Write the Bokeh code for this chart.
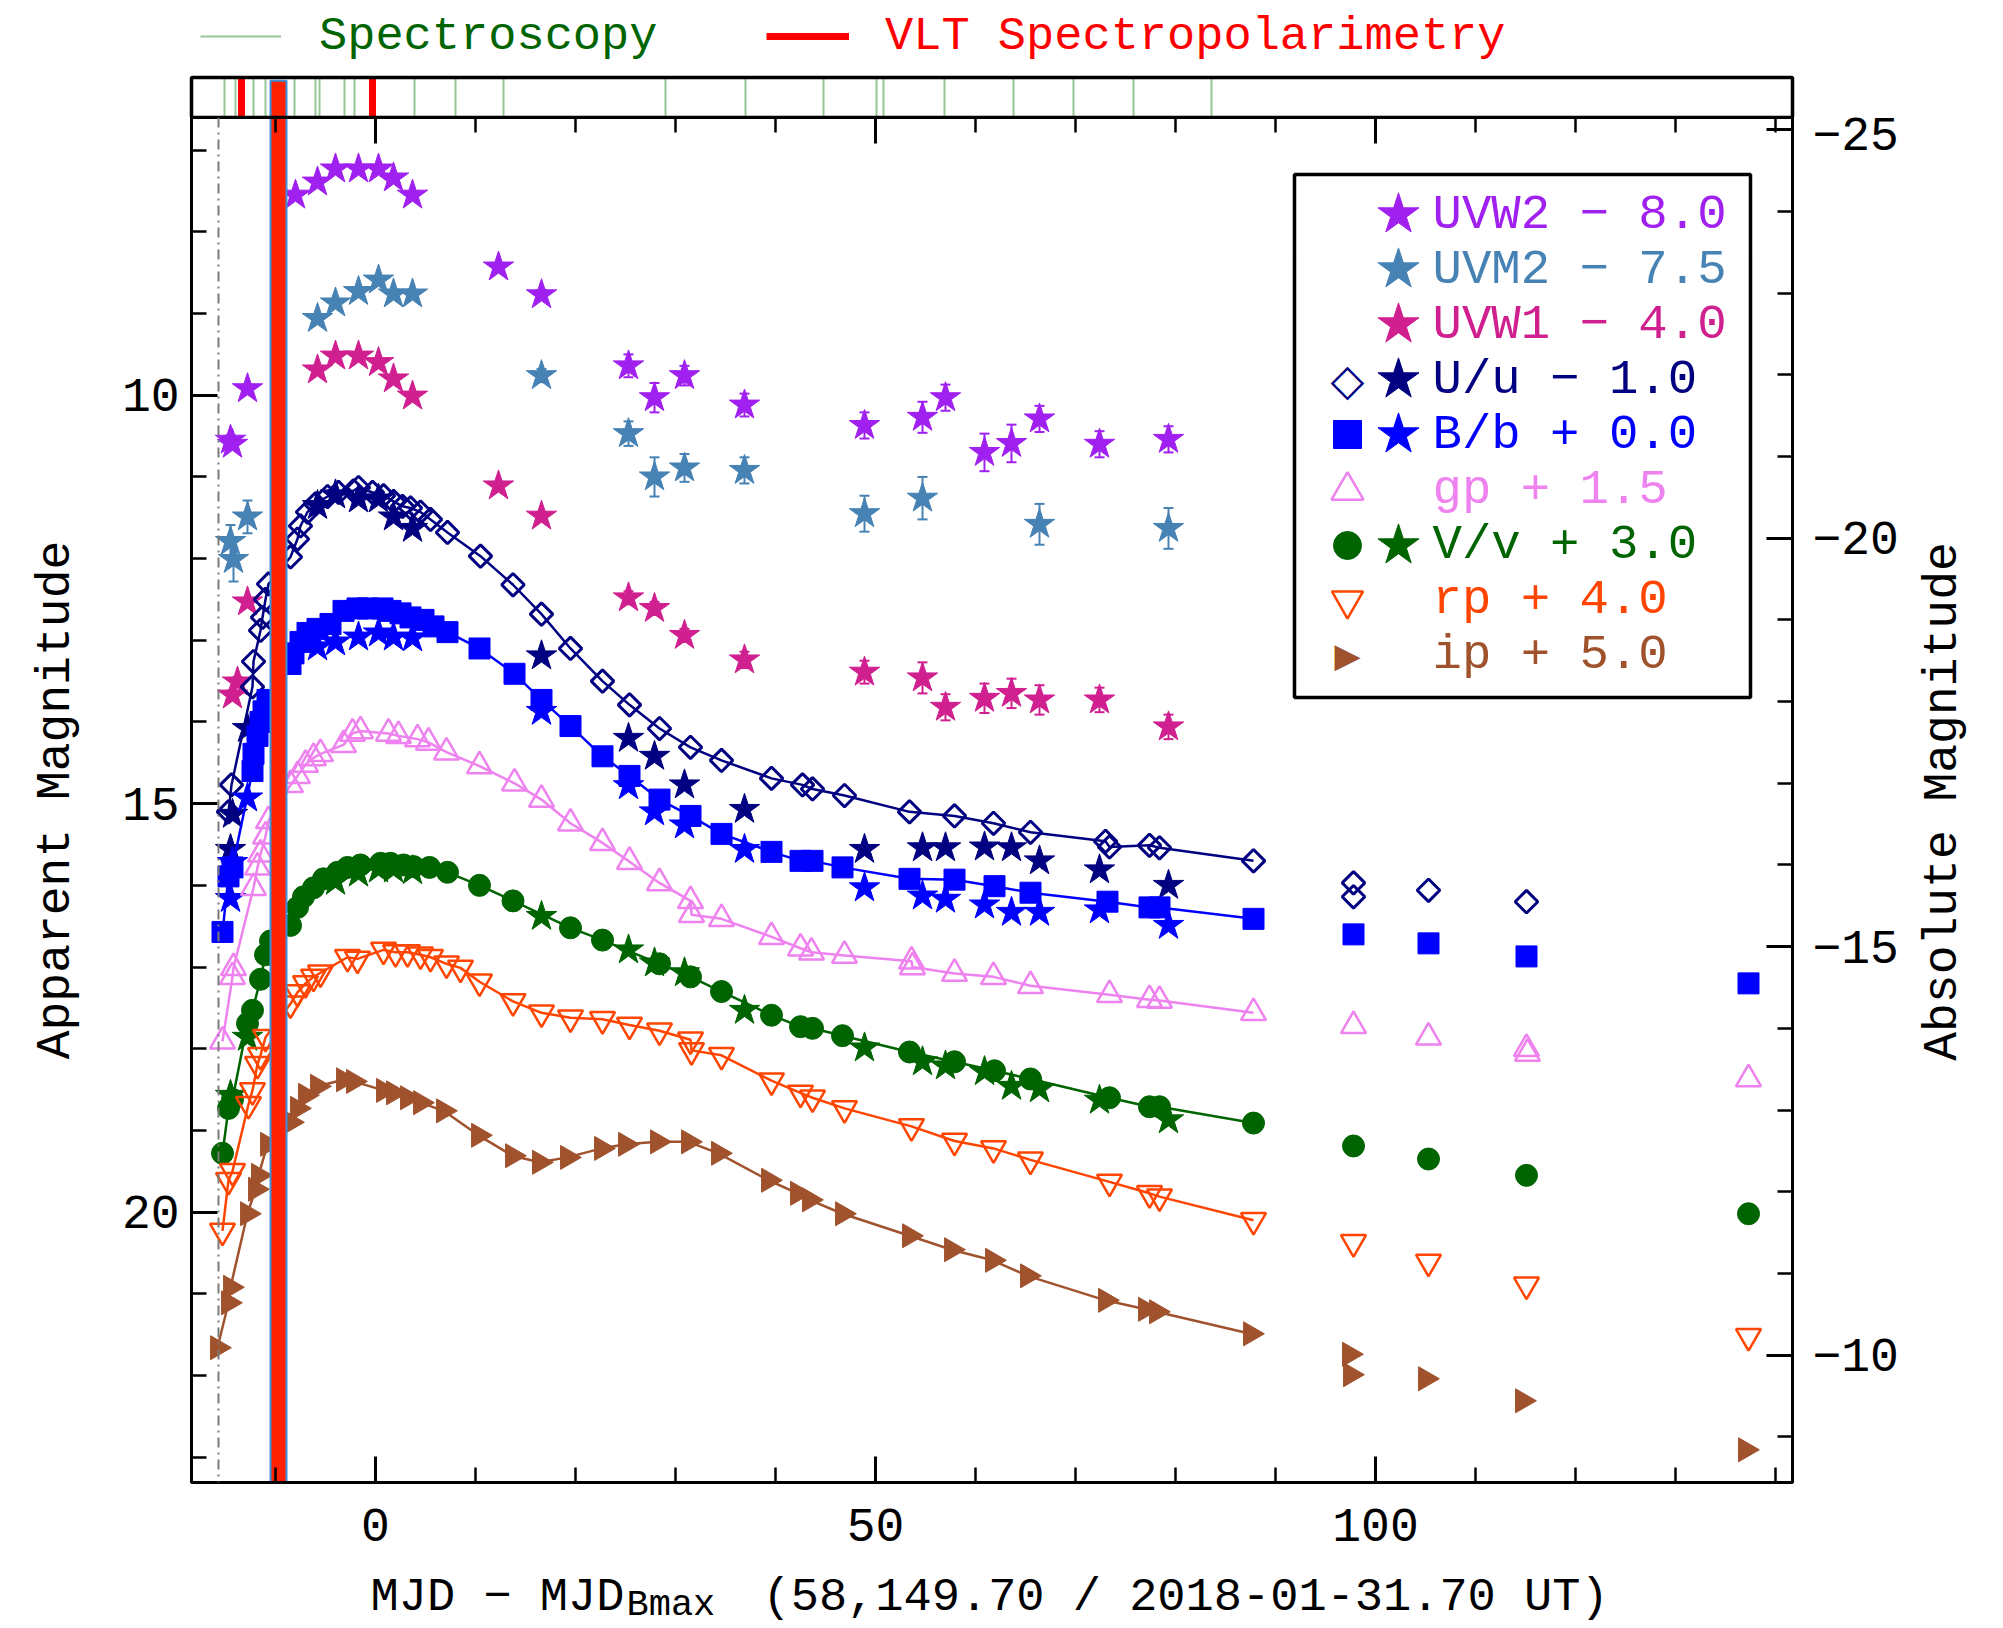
import numpy as np
from bokeh.plotting import figure
from bokeh.layouts import column, row
from bokeh.models import (Range1d, LinearAxis, FixedTicker, Span, Label, Legend, LegendItem,
                          BoxAnnotation, ColumnDataSource, Whisker, TeeHead)
from bokeh.embed import file_html
from bokeh.resources import INLINE

# ------------------------------------------------------------------ data
# epochs are MJD - MJD_Bmax (days); magnitudes are the plotted (offset) values
spec_epochs = [-15.1, -14.0, -12.2, -11.0, -8.1, -6.0, -5.6, -3.1, -2.1, 3.9, 8.0, 12.8,
               29.0, 37.0, 44.8, 50.1, 50.8, 56.9, 63.8, 69.8, 75.8, 83.6]
vlt_epochs = [-13.4, -0.3]
highlight_epoch = [-9.7]
first_epoch = -15.7

uvw2_t = [-14.5, -14.3, -12.8, -8.0, -5.8, -4.0, -1.7, 0.3, 1.8, 3.7, 12.3, 16.6, 25.3, 27.9,
          30.9, 36.9, 48.9, 54.7, 57.0, 60.9, 63.6, 66.4, 72.4, 79.3]
uvw2_m = [10.55, 10.60, 9.92, 7.55, 7.39, 7.23, 7.23, 7.23, 7.34, 7.55, 8.43, 8.77, 9.64, 10.03,
          9.76, 10.12, 10.37, 10.27, 10.03, 10.70, 10.59, 10.29, 10.60, 10.54]
uvw2_e = [0.06, 0.06, 0.05, 0.04, 0.04, 0.04, 0.04, 0.04, 0.04, 0.04, 0.05, 0.06, 0.14, 0.18,
          0.12, 0.14, 0.16, 0.19, 0.16, 0.23, 0.23, 0.16, 0.16, 0.16]

uvm2_t = [-14.5, -14.2, -12.8, -5.8, -4.0, -1.7, 0.3, 1.8, 3.7, 16.6, 25.3, 27.9, 30.9, 36.9,
          48.9, 54.7, 66.4, 79.3]
uvm2_m = [11.79, 12.01, 11.49, 9.06, 8.87, 8.73, 8.59, 8.76, 8.76, 9.76, 10.47, 11.00, 10.89,
          10.92, 11.45, 11.26, 11.58, 11.63]
uvm2_e = [0.20, 0.27, 0.20, 0.05, 0.05, 0.05, 0.05, 0.05, 0.05, 0.08, 0.15, 0.24, 0.17, 0.16,
          0.22, 0.26, 0.25, 0.25]

uvw1_t = [-14.3, -13.8, -12.8, -5.8, -4.0, -1.7, 0.3, 1.8, 3.7, 12.3, 16.6, 25.3, 27.9, 30.9,
          36.9, 48.9, 54.7, 57.0, 60.9, 63.6, 66.4, 72.4, 79.3]
uvw1_m = [13.67, 13.51, 12.53, 9.69, 9.52, 9.52, 9.60, 9.80, 10.01, 11.11, 11.48, 12.48, 12.61,
          12.94, 13.24, 13.39, 13.46, 13.82, 13.71, 13.65, 13.73, 13.73, 14.06]
uvw1_e = [0.06, 0.06, 0.05, 0.04, 0.04, 0.04, 0.04, 0.04, 0.04, 0.05, 0.05, 0.08, 0.08, 0.08,
          0.10, 0.14, 0.19, 0.16, 0.18, 0.18, 0.18, 0.15, 0.15]

# Swift u, b, v (stars)
swift_t = [-14.5, -14.3, -12.8, -5.8, -4.0, -1.7, 0.3, 1.8, 3.7, 16.6, 25.3, 27.9, 30.9, 36.9,
           48.9, 54.7, 57.0, 60.9, 63.6, 66.4, 72.4, 79.3]
u_m = [15.56, 15.13, 14.08, 11.35, 11.22, 11.27, 11.27, 11.49, 11.63, 13.19, 14.20, 14.42, 14.77,
       15.07, 15.56, 15.54, 15.54, 15.53, 15.54, 15.70, 15.81, 16.00]
b_m = [16.16, 15.72, 14.93, 13.08, 13.02, 12.96, 12.91, 12.96, 12.97, 13.87, 14.78, 15.10, 15.26,
       15.56, 16.03, 16.13, 16.17, 16.24, 16.33, 16.33, 16.30, 16.49]
v_t = [-14.5, -12.8, -4.0, -1.7, 0.3, 1.8, 3.7, 16.6, 25.3, 27.9, 30.9, 36.9, 48.9, 54.7, 57.0,
       60.9, 63.6, 66.4, 72.4, 79.3]
v_m = [18.57, 17.86, 15.95, 15.85, 15.80, 15.80, 15.82, 16.38, 16.79, 16.95, 17.07, 17.53, 17.99,
       18.16, 18.21, 18.28, 18.46, 18.49, 18.63, 18.87]

# ground-based U (diamonds)
U_t = [-14.7, -14.4, -12.3, -12.2, -11.5, -11.3, -11.0, -10.7, -8.5, -7.8, -7.5, -6.8, -6.0, -4.8,
       -3.7, -2.2, -1.7, -0.3, 0.8, 1.8, 2.7, 3.5, 4.5, 5.5, 7.2, 10.5, 13.75, 16.6, 19.5, 22.7,
       25.4, 28.4, 31.5, 34.6, 39.6, 42.7, 43.7, 46.9, 53.4, 57.9, 61.8, 65.5, 73.0, 73.4, 77.4,
       78.4, 87.8, 97.8, 97.8, 105.3, 115.1]
U_m = [15.10, 14.77, 13.57, 13.26, 12.88, 12.72, 12.50, 12.31, 11.98, 11.76, 11.60, 11.43, 11.33,
       11.24, 11.19, 11.17, 11.13, 11.19, 11.23, 11.30, 11.36, 11.38, 11.43, 11.52, 11.68, 11.97,
       12.32, 12.68, 13.10, 13.50, 13.79, 14.08, 14.31, 14.47, 14.69, 14.77, 14.82, 14.90, 15.10,
       15.15, 15.24, 15.35, 15.46, 15.53, 15.51, 15.54, 15.70, 15.97, 16.14, 16.06, 16.20]

B_t = [-15.3, -14.7, -14.3, -12.3, -12.2, -11.8, -11.5, -11.2, -10.8, -8.5, -8.2, -7.5, -6.8,
       -5.8, -4.5, -3.2, -1.8, -0.8, 0.7, 1.5, 2.5, 3.5, 4.8, 5.8, 7.2, 10.4, 13.9, 16.6, 19.5,
       22.7, 25.4, 28.4, 31.5, 34.6, 39.6, 42.5, 43.7, 46.7, 53.4, 57.9, 61.9, 65.5, 73.2, 77.4,
       78.4, 87.8, 97.8, 105.3, 115.1, 137.3]
B_m = [16.57, 15.89, 15.78, 14.60, 14.39, 14.17, 14.00, 13.87, 13.73, 13.29, 13.16, 13.02, 12.91,
       12.86, 12.80, 12.64, 12.61, 12.61, 12.61, 12.64, 12.67, 12.72, 12.75, 12.83, 12.90, 13.10,
       13.41, 13.73, 14.05, 14.42, 14.66, 14.95, 15.15, 15.37, 15.59, 15.70, 15.70, 15.78, 15.92,
       15.93, 16.01, 16.09, 16.20, 16.27, 16.27, 16.41, 16.60, 16.71, 16.87, 17.20]

gp_t = [-15.3, -14.3, -14.2, -12.2, -11.8, -11.5, -11.0, -10.7, -8.5, -7.8, -7.0, -6.2, -5.5,
        -3.2, -2.3, -1.5, 1.3, 2.3, 4.2, 5.3, 7.1, 10.4, 13.9, 16.6, 19.5, 22.7, 25.4, 28.4,
        31.5, 31.6, 34.6, 39.6, 42.5, 43.6, 46.9, 53.6, 53.7, 57.9, 61.8, 65.5, 73.4, 77.4, 78.4,
        87.8, 97.8, 105.3, 115.1, 115.2, 137.3]
gp_m = [17.91, 17.12, 17.01, 16.03, 15.78, 15.62, 15.40, 15.21, 14.77, 14.66, 14.52, 14.44, 14.39,
        14.28, 14.14, 14.11, 14.14, 14.17, 14.21, 14.25, 14.37, 14.54, 14.75, 14.95, 15.24, 15.48,
        15.71, 15.97, 16.19, 16.36, 16.41, 16.63, 16.77, 16.82, 16.86, 16.93, 17.00, 17.08, 17.12,
        17.23, 17.34, 17.40, 17.41, 17.56, 17.72, 17.86, 18.00, 18.06, 18.37]

V_t = [-15.3, -14.7, -14.3, -12.8, -12.3, -11.5, -11.0, -10.5, -8.5, -7.8, -7.2, -6.2, -5.2, -3.8,
       -2.8, -1.5, 0.5, 1.5, 2.8, 3.8, 5.4, 7.2, 10.4, 13.75, 19.5, 22.7, 28.4, 31.5, 34.6, 39.6,
       42.5, 43.7, 46.7, 53.4, 57.9, 61.9, 65.5, 73.4, 77.4, 78.4, 87.8, 97.8, 105.3, 115.1,
       137.3]
V_m = [19.28, 18.73, 18.62, 17.69, 17.53, 17.15, 16.85, 16.68, 16.49, 16.27, 16.14, 16.03, 15.92,
       15.84, 15.78, 15.75, 15.73, 15.73, 15.75, 15.77, 15.78, 15.84, 16.00, 16.19, 16.52, 16.67,
       16.96, 17.12, 17.30, 17.59, 17.73, 17.75, 17.84, 18.04, 18.16, 18.27, 18.37, 18.60, 18.71,
       18.71, 18.91, 19.19, 19.35, 19.55, 20.02]

rp_t = [-15.3, -14.7, -14.3, -12.7, -12.3, -11.8, -11.5, -11.0, -8.5, -7.8, -7.0, -6.2, -5.5,
        -2.8, -1.8, 0.8, 2.0, 3.2, 4.5, 5.5, 7.1, 8.5, 10.4, 13.75, 16.6, 19.5, 22.7, 25.4, 28.4,
        31.5, 31.6, 34.6, 39.6, 42.5, 43.7, 46.9, 53.6, 57.9, 61.8, 65.5, 73.4, 77.4, 78.4, 87.8,
        97.8, 105.3, 115.1, 137.3]
rp_m = [20.23, 19.61, 19.50, 18.68, 18.51, 18.19, 18.08, 17.86, 17.45, 17.31, 17.20, 17.12, 17.07,
        16.88, 16.90, 16.79, 16.82, 16.82, 16.85, 16.88, 16.96, 17.01, 17.18, 17.42, 17.56, 17.62,
        17.64, 17.71, 17.78, 17.89, 18.02, 18.08, 18.39, 18.54, 18.60, 18.73, 18.95, 19.13, 19.22,
        19.36, 19.63, 19.77, 19.81, 20.10, 20.37, 20.61, 20.89, 21.52]

ip_t = [-15.8, -14.7, -14.5, -12.8, -12.0, -11.7, -10.8, -8.5, -7.8, -7.0, -5.8, -3.2, -2.2, 0.8,
        1.8, 3.2, 4.5, 6.8, 10.3, 13.7, 16.4, 19.2, 22.6, 25.0, 28.2, 31.3, 34.3, 39.3, 42.2, 43.4,
        46.7, 53.4, 57.6, 61.7, 65.2, 73.0, 77.0, 78.1, 87.5, 97.4, 97.5, 105.0, 114.7, 137.0]
ip_m = [21.66, 21.11, 20.92, 20.02, 19.72, 19.55, 19.17, 18.90, 18.73, 18.57, 18.46, 18.38, 18.40,
        18.51, 18.54, 18.60, 18.66, 18.76, 19.06, 19.31, 19.39, 19.33, 19.22, 19.17, 19.14, 19.14,
        19.28, 19.61, 19.77, 19.85, 20.02, 20.29, 20.46, 20.59, 20.78, 21.08, 21.19, 21.22, 21.49,
        21.74, 21.99, 22.04, 22.31, 22.91]

x_major_ticks = [0, 50, 100]
x_minor_ticks = list(range(-10, 141, 10))
y_major_ticks = [10, 15, 20]
y_minor_ticks = list(range(7, 24))
abs_major_ticks = [-25, -20, -15, -10]
abs_minor_ticks = list(range(-25, -8))
abs_tick_labels = {-25: "\u221225", -20: "\u221220", -15: "\u221215", -10: "\u221210"}
distance_modulus = 31.75
line_end_epoch = 90.0   # curves are drawn only through the dense part of each light curve

# ------------------------------------------------------------------ layout constants
FONT = "Liberation Mono"
SYMFONT = "DejaVu Sans"
W, H = 2003, 1628
PW = 1905               # width of the main figure (the rest holds the right-hand title)
FR_L, FR_R = 191, 1792
STRIP_H = 117
FR_T, FR_B = 117, 1482
XLAB_H = 56
MAIN_H = H - STRIP_H - XLAB_H
X0, X1 = -18.4, 141.7
Y_BOT, Y_TOP = 23.31, 6.60
PXD = (FR_R - FR_L) / (X1 - X0)

C_UVW2, C_UVM2, C_UVW1 = "#A020F0", "#4682B4", "#D02090"
C_U, C_B, C_G, C_V, C_R, C_I = "#000080", "#0000FF", "#EE82EE", "#006400", "#FF4500", "#A0522D"
BAR_FILL, BAR_LINE = "#FF2200", "#3D8FD6"

xr = Range1d(X0, X1)

# ------------------------------------------------------------------ main figure
p = figure(width=PW, height=MAIN_H, x_range=xr, y_range=Range1d(Y_BOT, Y_TOP),
           x_axis_type=None, y_axis_type=None, output_backend="svg", toolbar_location=None,
           min_border_left=FR_L, min_border_right=PW - FR_R, min_border_top=0,
           min_border_bottom=MAIN_H - (FR_B - FR_T))
p.extra_y_ranges = {"abs": Range1d(Y_BOT - distance_modulus, Y_TOP - distance_modulus)}
p.outline_line_color = "black"
p.outline_line_width = 3
p.background_fill_color = "white"
p.border_fill_color = "white"


def fmt_axis(ax):
    ax.axis_line_width = 3
    ax.axis_line_color = "black"
    ax.major_tick_line_width = 3
    ax.minor_tick_line_width = 2.5
    ax.major_tick_line_color = "black"
    ax.minor_tick_line_color = "black"
    ax.major_tick_in = 26
    ax.major_tick_out = 0
    ax.minor_tick_in = 15
    ax.minor_tick_out = 0
    ax.major_label_text_font = FONT
    ax.major_label_text_font_size = "48px"
    ax.major_label_text_color = "black"
    ax.axis_label_text_font = FONT
    ax.axis_label_text_font_size = "48px"
    ax.axis_label_text_font_style = "normal"
    ax.axis_label_text_color = "black"


bottom = LinearAxis(ticker=FixedTicker(ticks=x_major_ticks, minor_ticks=x_minor_ticks))
fmt_axis(bottom)
bottom.major_label_standoff = 26
p.add_layout(bottom, "below")

top = LinearAxis(ticker=FixedTicker(ticks=x_major_ticks, minor_ticks=x_minor_ticks))
fmt_axis(top)
top.major_label_text_font_size = "0px"
top.major_label_standoff = 0
top.major_label_overrides = {t: "" for t in x_major_ticks}
p.add_layout(top, "above")

left = LinearAxis(ticker=FixedTicker(ticks=y_major_ticks, minor_ticks=y_minor_ticks),
                  axis_label="Apparent Magnitude")
fmt_axis(left)
left.major_label_standoff = 12
left.axis_label_standoff = 36
p.add_layout(left, "left")

right = LinearAxis(y_range_name="abs",
                   ticker=FixedTicker(ticks=abs_major_ticks, minor_ticks=abs_minor_ticks))
fmt_axis(right)
right.major_label_overrides = abs_tick_labels
right.major_label_standoff = 20
p.add_layout(right, "right")

p.add_layout(Span(location=first_epoch, dimension="height", line_color="#7a7a7a",
                  line_width=2, line_dash="10 5 2 5"))


def with_errors(t, m, e, color):
    src = ColumnDataSource(dict(t=t, m=m, lo=[a - b for a, b in zip(m, e)],
                                hi=[a + b for a, b in zip(m, e)]))
    p.add_layout(Whisker(source=src, base="t", upper="hi", lower="lo", line_color=color,
                         line_width=2,
                         upper_head=TeeHead(size=10, line_color=color, line_width=2),
                         lower_head=TeeHead(size=10, line_color=color, line_width=2)))
    return src


def curve(t, m, color):
    order = np.argsort(t, kind="stable")
    tt = [t[i] for i in order if t[i] < line_end_epoch]
    mm = [m[i] for i in order if t[i] < line_end_epoch]
    p.line(tt, mm, line_color=color, line_width=2.5)


STAR = 32
r_uvw2 = p.scatter("t", "m", source=with_errors(uvw2_t, uvw2_m, uvw2_e, C_UVW2), marker="star",
                   size=STAR, fill_color=C_UVW2, line_color=C_UVW2)
r_uvm2 = p.scatter("t", "m", source=with_errors(uvm2_t, uvm2_m, uvm2_e, C_UVM2), marker="star",
                   size=STAR, fill_color=C_UVM2, line_color=C_UVM2)
r_uvw1 = p.scatter("t", "m", source=with_errors(uvw1_t, uvw1_m, uvw1_e, C_UVW1), marker="star",
                   size=STAR, fill_color=C_UVW1, line_color=C_UVW1)

curve(U_t, U_m, C_U)
r_U = p.scatter(U_t, U_m, marker="square", angle=np.pi / 4, size=16, fill_color=None,
                line_color=C_U, line_width=3)
r_u = p.scatter(swift_t, u_m, marker="star", size=STAR, fill_color=C_U, line_color=C_U)
curve(B_t, B_m, C_B)
r_B = p.scatter(B_t, B_m, marker="square", size=21, fill_color=C_B, line_color=C_B)
r_b = p.scatter(swift_t, b_m, marker="star", size=STAR, fill_color=C_B, line_color=C_B)
curve(gp_t, gp_m, C_G)
r_gp = p.scatter(gp_t, gp_m, marker="triangle", size=25, fill_color=None, line_color=C_G,
                 line_width=2.5)
curve(V_t, V_m, C_V)
r_V = p.scatter(V_t, V_m, marker="circle", size=22, fill_color=C_V, line_color=C_V)
r_v = p.scatter(v_t, v_m, marker="star", size=STAR, fill_color=C_V, line_color=C_V)
curve(rp_t, rp_m, C_R)
r_rp = p.scatter(rp_t, rp_m, marker="inverted_triangle", size=25, fill_color=None,
                 line_color=C_R, line_width=2.5)
curve(ip_t, ip_m, C_I)
r_ip = p.scatter(ip_t, ip_m, marker="triangle", angle=-np.pi / 2, size=24, fill_color=C_I,
                 line_color=C_I)

# highlighted spectropolarimetric epoch
p.vbar(x=highlight_epoch, width=1.6, bottom=Y_BOT, top=Y_TOP, fill_color=BAR_FILL,
       line_color=BAR_LINE, line_width=2)

# ---- legend box
p.add_layout(BoxAnnotation(left=1294 - FR_L, right=1750 - FR_L, top=FR_B - 174,
                           bottom=FR_B - 697, left_units="screen", right_units="screen",
                           top_units="screen", bottom_units="screen", fill_color=None,
                           fill_alpha=0, line_color="black", line_width=3.5, line_alpha=1))

rows_y = [214 + 55.1 * i for i in range(9)]
# (text, colour, first-column symbol: renderer or unicode char, glyph box, star renderer)
legend_rows = [
    ("UVW2 \u2212 8.0", C_UVW2, None, 0, r_uvw2),
    ("UVM2 \u2212 7.5", C_UVM2, None, 0, r_uvm2),
    ("UVW1 \u2212 4.0", C_UVW1, None, 0, r_uvw1),
    ("U/u \u2212 1.0", C_U, "\u25C7", 44, r_u),
    ("B/b + 0.0", C_B, r_B, 70, r_b),
    ("gp + 1.5", C_G, r_gp, 80, None),
    ("V/v + 3.0", C_V, r_V, 70, r_v),
    ("rp + 4.0", C_R, r_rp, 78, None),
    ("ip + 5.0", C_I, "\u25B6", 34, None),
]
SYM_X, STAR_X, TEXT_X = 1347 - FR_L, 1398 - FR_L, 1432 - FR_L
STAR_G = 108


def glyph_legend(fig, renderer, cx, cy, G):
    fig.add_layout(Legend(items=[LegendItem(label=" ", renderers=[renderer])],
                          location=(cx - G / 2, cy - G / 2), glyph_width=G, glyph_height=G,
                          label_width=0, label_height=0, label_standoff=0,
                          label_text_font_size="1px", padding=0, margin=0, spacing=0,
                          border_line_color=None, background_fill_color=None,
                          background_fill_alpha=0))


for (txt, col, sym, G, star), yy in zip(legend_rows, rows_y):
    cy = FR_B - yy
    if isinstance(sym, str):
        p.add_layout(Label(x=SYM_X, y=cy, x_units="screen", y_units="screen", text=sym,
                           text_color=col, text_font=SYMFONT, text_font_size=f"{G}px",
                           text_baseline="middle", text_align="center"))
    elif sym is not None:
        glyph_legend(p, sym, SYM_X, cy, G)
    if star is not None:
        glyph_legend(p, star, STAR_X, cy, STAR_G)
    p.add_layout(Label(x=TEXT_X, y=cy, x_units="screen", y_units="screen", text=txt,
                       text_color=col, text_font=FONT, text_font_size="49px",
                       text_baseline="middle", text_align="left"))

# ------------------------------------------------------------------ right-hand axis title
rt = figure(width=W - PW, height=MAIN_H, x_range=Range1d(0, 1), y_range=Range1d(0, 1),
            x_axis_type=None, y_axis_type=None, output_backend="svg", toolbar_location=None,
            min_border_left=0, min_border_right=0, min_border_top=0, min_border_bottom=0)
rt.frame_align = False
rt.outline_line_color = None
rt.border_fill_color = "white"
rt.background_fill_color = "white"
rt.add_layout(Label(x=1942 - PW, y=(STRIP_H + MAIN_H) - 801, x_units="screen",
                    y_units="screen", text="Absolute Magnitude", angle=np.pi / 2,
                    text_font=FONT, text_font_size="48px", text_align="center",
                    text_baseline="middle", text_color="black"))

# ------------------------------------------------------------------ strip figure (top)
STRIP_PAD = 10          # frame is a little wider than the box so its border is not clipped
BOX_H = 40              # height of the epoch strip in px
s = figure(width=W, height=STRIP_H,
           x_range=Range1d(X0 - STRIP_PAD / PXD, X1 + STRIP_PAD / PXD),
           y_range=Range1d(0, STRIP_H / BOX_H),
           x_axis_type=None, y_axis_type=None, output_backend="svg", toolbar_location=None,
           min_border_left=FR_L - STRIP_PAD, min_border_right=W - FR_R - STRIP_PAD,
           min_border_top=0, min_border_bottom=0)
s.frame_align = False
s.outline_line_color = None
s.border_fill_color = "white"
s.background_fill_color = "white"
g_spec = s.segment(x0=spec_epochs, x1=spec_epochs, y0=0, y1=1, line_color="#96C596",
                   line_width=2)
g_vlt = s.segment(x0=vlt_epochs, x1=vlt_epochs, y0=0, y1=1, line_color="#FF0000",
                  line_width=7)
s.vbar(x=highlight_epoch, width=1.6, bottom=0, top=0.92, fill_color=BAR_FILL,
       line_color=BAR_LINE, line_width=2)
s.quad(left=X0, right=X1, bottom=0, top=1, fill_color=None, line_color="black",
       line_width=3.5)


def strip_legend(renderer, text, color, left_px, line_len, standoff):
    s.add_layout(Legend(items=[LegendItem(label=text, renderers=[renderer])],
                        location=(left_px - (FR_L - STRIP_PAD), (STRIP_H - 36) - 30),
                        glyph_width=line_len, glyph_height=60, label_height=60,
                        label_standoff=standoff, label_text_font=FONT,
                        label_text_font_size="47px", label_text_color=color, padding=0,
                        margin=0, spacing=0, border_line_color=None,
                        background_fill_color=None, background_fill_alpha=0))


strip_legend(g_spec, "Spectroscopy", "#006400", 200, 81, 38)
strip_legend(g_vlt, "VLT Spectropolarimetry", "#FF0000", 766, 83, 36)

# ------------------------------------------------------------------ x-axis title strip (bottom)
xl = figure(width=W, height=XLAB_H, x_range=Range1d(0, 1), y_range=Range1d(0, 1),
            x_axis_type=None, y_axis_type=None, output_backend="svg", toolbar_location=None,
            min_border_left=FR_L, min_border_right=W - FR_R, min_border_top=0,
            min_border_bottom=0)
xl.frame_align = False
xl.outline_line_color = None
xl.border_fill_color = "white"
xl.background_fill_color = "white"
xl.add_layout(Label(x=370 - FR_L, y=H - 1597, x_units="screen", y_units="screen",
                    text="MJD \u2212 MJD", text_font=FONT, text_font_size="47px",
                    text_baseline="middle", text_color="black"))
xl.add_layout(Label(x=626 - FR_L, y=24, x_units="screen", y_units="screen",
                    text="Bmax", text_font=FONT, text_font_size="37px",
                    text_baseline="middle", text_color="black"))
xl.add_layout(Label(x=762 - FR_L, y=H - 1597, x_units="screen", y_units="screen",
                    text="(58,149.70 / 2018-01-31.70 UT)", text_font=FONT,
                    text_font_size="47px", text_baseline="middle", text_color="black"))

layout = column(s, row(p, rt, spacing=0), xl, spacing=0)
open("out.html", "w").write(file_html(layout, INLINE, title="light curves"))
